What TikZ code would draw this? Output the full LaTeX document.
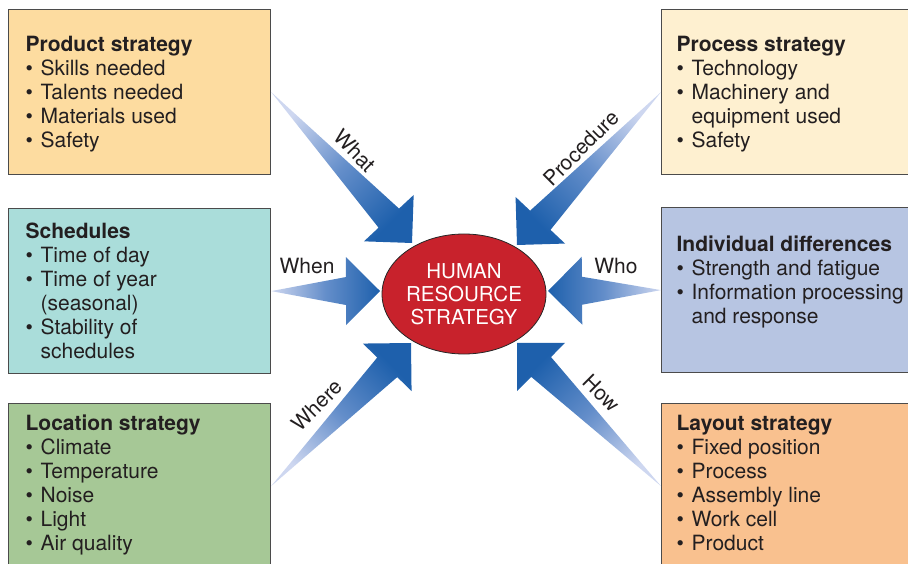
\documentclass[tikz,border=0pt]{standalone}
\usepackage{fontspec}
\setmainfont{TeX Gyre Heros}
\usetikzlibrary{shapes.geometric,calc}
\definecolor{prodfill}{RGB}{253,220,160}
\definecolor{schedfill}{RGB}{170,221,218}
\definecolor{locfill}{RGB}{166,200,150}
\definecolor{procfill}{RGB}{254,240,208}
\definecolor{indivfill}{RGB}{183,197,226}
\definecolor{layfill}{RGB}{249,193,143}
\definecolor{hrred}{RGB}{200,34,44}
\definecolor{boxline}{RGB}{75,75,75}
\definecolor{textdark}{RGB}{35,31,32}
\definecolor{arrowlight}{RGB}{206,215,240}
\definecolor{arrowmid}{RGB}{100,142,202}
\definecolor{arrowdark}{RGB}{30,96,172}

% box contents
\newcommand{\boxhead}[2]{\rule{0pt}{#1pt}\textbf{#2}}
\newcommand{\bitem}[1]{\\\makebox[15pt][l]{\textbullet}#1}
\newcommand{\bmore}[1]{\\\hspace*{15pt}#1}
\newcommand{\boxtext}[1]{\parbox[t][165pt][t]{228pt}{#1}}
% tapered arrow: tail, tip, shading angle
\newcommand{\hrarrow}[3]{%
  \shade[arrowshade, shading angle=#3] (#1)
    -- ($(#2)!34pt!(#1)!14pt!90:(#2)$)
    -- ($(#2)!34pt!(#1)!34pt!90:(#2)$)
    -- (#2)
    -- ($(#2)!34pt!(#1)!34pt!-90:(#2)$)
    -- ($(#2)!34pt!(#1)!14pt!-90:(#2)$)
    -- cycle;}

\begin{document}
\begin{tikzpicture}[x=1pt, y=-1pt,
  hrbox/.style={draw=boxline, line width=1.2pt, anchor=north west,
    inner xsep=17pt, inner ysep=0pt, text=textdark,
    font=\fontsize{21}{24}\selectfont},
  rightbox/.style={hrbox, inner xsep=15pt},
  hrlabel/.style={text=textdark, font=\fontsize{21}{24}\selectfont},
  arrowshade/.style={top color=arrowlight, bottom color=arrowdark,
    middle color=arrowmid}]
  \useasboundingbox (0,0) rectangle (908,564);

  % left column
  \node[hrbox, fill=prodfill] (prod) at (8,9) {\boxtext{%
    \boxhead{42}{Product strategy}\bitem{Skills needed}\bitem{Talents needed}%
    \bitem{Materials used}\bitem{Safety}}};
  \node[hrbox, fill=schedfill] (sched) at (8,208) {\boxtext{%
    \boxhead{30}{Schedules}\bitem{Time of day}\bitem{Time of year}%
    \bmore{(seasonal)}\bitem{Stability of}\bmore{schedules}}};
  \node[hrbox, fill=locfill] (loc) at (8,403) {\boxtext{%
    \boxhead{27}{Location strategy}\bitem{Climate}\bitem{Temperature}%
    \bitem{Noise}\bitem{Light}\bitem{Air quality}}};

  % right column
  \node[rightbox, fill=procfill] (proc) at (661,9) {\boxtext{%
    \boxhead{42}{Process strategy}\bitem{Technology}\bitem{Machinery and}%
    \bmore{equipment used}\bitem{Safety}}};
  \node[rightbox, fill=indivfill] (indiv) at (661,207) {\boxtext{%
    \boxhead{44}{Individual differences}\bitem{Strength and fatigue}%
    \bitem{Information processing}\bmore{and response}}};
  \node[rightbox, fill=layfill] (lay) at (661,403) {\boxtext{%
    \boxhead{27}{Layout strategy}\bitem{Fixed position}\bitem{Process}%
    \bitem{Assembly line}\bitem{Work cell}\bitem{Product}}};

  % centre
  \node[ellipse, draw=black!85, line width=0.8pt, fill=hrred,
        minimum width=164pt, minimum height=120pt, inner sep=0pt,
        text=white, align=center, font=\fontsize{20.5}{23}\selectfont]
        (hr) at (464,294) {HUMAN\\RESOURCE\\STRATEGY};

  \coordinate (whatTip)  at ($(hr.center)+(-52,-51)$);
  \coordinate (procTip)  at ($(hr.center)+(53,-49)$);
  \coordinate (whenTip)  at ($(hr.center)+(-84,-3)$);
  \coordinate (whoTip)   at ($(hr.center)+(84,-3)$);
  \coordinate (whereTip) at ($(hr.center)+(-53,49)$);
  \coordinate (howTip)   at ($(hr.center)+(53,49)$);

  \hrarrow{prod.east}{whatTip}{45}
  \hrarrow{proc.west}{procTip}{-45}
  \hrarrow{sched.east}{whenTip}{90}
  \hrarrow{indiv.west}{whoTip}{-90}
  \hrarrow{loc.east}{whereTip}{135}
  \hrarrow{lay.west}{howTip}{-135}

  \node[hrlabel, rotate=-45] (lwhat) at (355,151) {What};
  \node[hrlabel, rotate=45] (lproc) at (581,148) {Procedure};
  \node[hrlabel] (lwhen) at (307,266) {When};
  \node[hrlabel] (lwho) at (616,266) {Who};
  \node[hrlabel, rotate=45] (lwhere) at (317,405) {Where};
  \node[hrlabel, rotate=-45] (lhow) at (602,393) {How};
\end{tikzpicture}
\end{document}
